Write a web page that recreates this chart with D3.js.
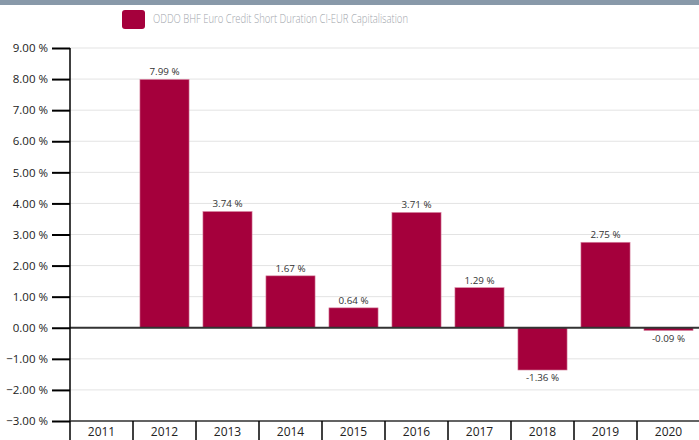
<!DOCTYPE html>
<html>
<head>
<meta charset="utf-8">
<script src="https://cdn.jsdelivr.net/npm/d3@7"></script>
<style>
  body { margin: 0; background: #fff; }
  svg { display: block; font-family: "Open Sans", sans-serif; }
</style>
</head>
<body>
<div id="chart"></div>
<script>
// Data
const years = ["2011", "2012", "2013", "2014", "2015", "2016", "2017", "2018", "2019", "2020"];
const perf = [null, 7.99, 3.74, 1.67, 0.64, 3.71, 1.29, -1.36, 2.75, -0.09];
const yTicks = [-3, -2, -1, 0, 1, 2, 3, 4, 5, 6, 7, 8, 9];
const seriesName = "ODDO BHF Euro Credit Short Duration CI-EUR Capitalisation";

const width = 699, height = 440;
const svg = d3.select("#chart").append("svg")
  .attr("width", width)
  .attr("height", height);

// top band
svg.append("rect")
  .attr("x", 0).attr("y", 0)
  .attr("width", width).attr("height", 5)
  .attr("fill", "#8899a9");

// Legend
svg.append("rect")
  .attr("x", 122).attr("y", 10)
  .attr("width", 23).attr("height", 19)
  .attr("rx", 3)
  .attr("fill", "#a5003c");
svg.append("text")
  .text(seriesName)
  .attr("x", 153).attr("y", 23)
  .attr("fill", "#a0a5ab")
  .attr("textLength", 255)
  .attr("lengthAdjust", "spacingAndGlyphs")
  .style("font-size", "13px")
  .style("font-weight", 300);

const mLeft = 70, mRight = 700, mTop = 48, mBottom = 421;

// Scales
const x = d3.scaleBand()
  .domain(years)
  .range([mLeft, mRight])
  .paddingInner(0.22)
  .paddingOuter(0.11);

const y = d3.scaleLinear()
  .domain([-3, 9])
  .range([mBottom, mTop]);

// Gridlines
svg.append("g")
  .selectAll("line")
  .data(yTicks)
  .join("line")
    .attr("x1", mLeft).attr("x2", width)
    .attr("y1", d => y(d)).attr("y2", d => y(d))
    .attr("stroke", "#e3e3e3")
    .attr("stroke-width", 1);

// Bars
const data = years.map((yr, i) => ({ year: yr, value: perf[i] })).filter(d => d.value !== null);

svg.append("g")
  .selectAll("rect")
  .data(data)
  .join("rect")
    .attr("x", d => x(d.year))
    .attr("y", d => y(Math.max(0, d.value)))
    .attr("width", x.bandwidth())
    .attr("height", d => Math.abs(y(d.value) - y(0)))
    .attr("fill", "#a5003c")
    .attr("stroke", "#d98aa5")
    .attr("stroke-width", 0.6);

// Value labels
svg.append("g")
  .selectAll("text")
  .data(data)
  .join("text")
    .text(d => d.value.toFixed(2) + " %")
    .attr("x", d => x(d.year) + x.bandwidth() / 2)
    .attr("y", d => d.value >= 0 ? y(d.value) - 4 : y(d.value) + 11)
    .attr("text-anchor", "middle")
    .attr("fill", "#333")
    .style("font-size", "9.8px");

// Zero line
svg.append("line")
  .attr("x1", mLeft).attr("x2", width)
  .attr("y1", y(0)).attr("y2", y(0))
  .attr("stroke", "#333")
  .attr("stroke-width", 2);

// Y axis
const yAxis = svg.append("g")
  .attr("transform", `translate(${mLeft},0)`)
  .call(d3.axisLeft(y)
    .tickValues(yTicks)
    .tickSize(18)
    .tickPadding(4)
    .tickFormat(d => d3.format(".2f")(d) + " %"));
yAxis.select(".domain")
  .attr("d", `M0,${mTop}V${mBottom}`)
  .attr("stroke", "#000")
  .attr("stroke-width", 1.5);
yAxis.selectAll(".tick line")
  .attr("stroke", "#000")
  .attr("stroke-width", 2);
yAxis.selectAll(".tick text")
  .attr("fill", "#222")
  .style("font-size", "11.5px")
  .style("font-family", "'Open Sans', sans-serif");

// X axis
const xAxis = svg.append("g")
  .attr("transform", `translate(0,${mBottom})`)
  .call(d3.axisBottom(x).tickSize(0).tickPadding(6));
xAxis.select(".domain").remove();
xAxis.selectAll(".tick text")
  .attr("fill", "#222")
  .style("font-size", "12px")
  .style("font-family", "'Open Sans', sans-serif");

svg.append("line")
  .attr("x1", mLeft).attr("x2", width)
  .attr("y1", mBottom).attr("y2", mBottom)
  .attr("stroke", "#333")
  .attr("stroke-width", 1.5);

// Separators between categories
const bounds = years.map(yr => x(yr) - x.step() * x.paddingInner() / 2);
svg.append("g")
  .selectAll("line")
  .data(bounds)
  .join("line")
    .attr("x1", d => d).attr("x2", d => d)
    .attr("y1", mBottom).attr("y2", height)
    .attr("stroke", "#000")
    .attr("stroke-width", 1.5);
</script>
</body>
</html>
